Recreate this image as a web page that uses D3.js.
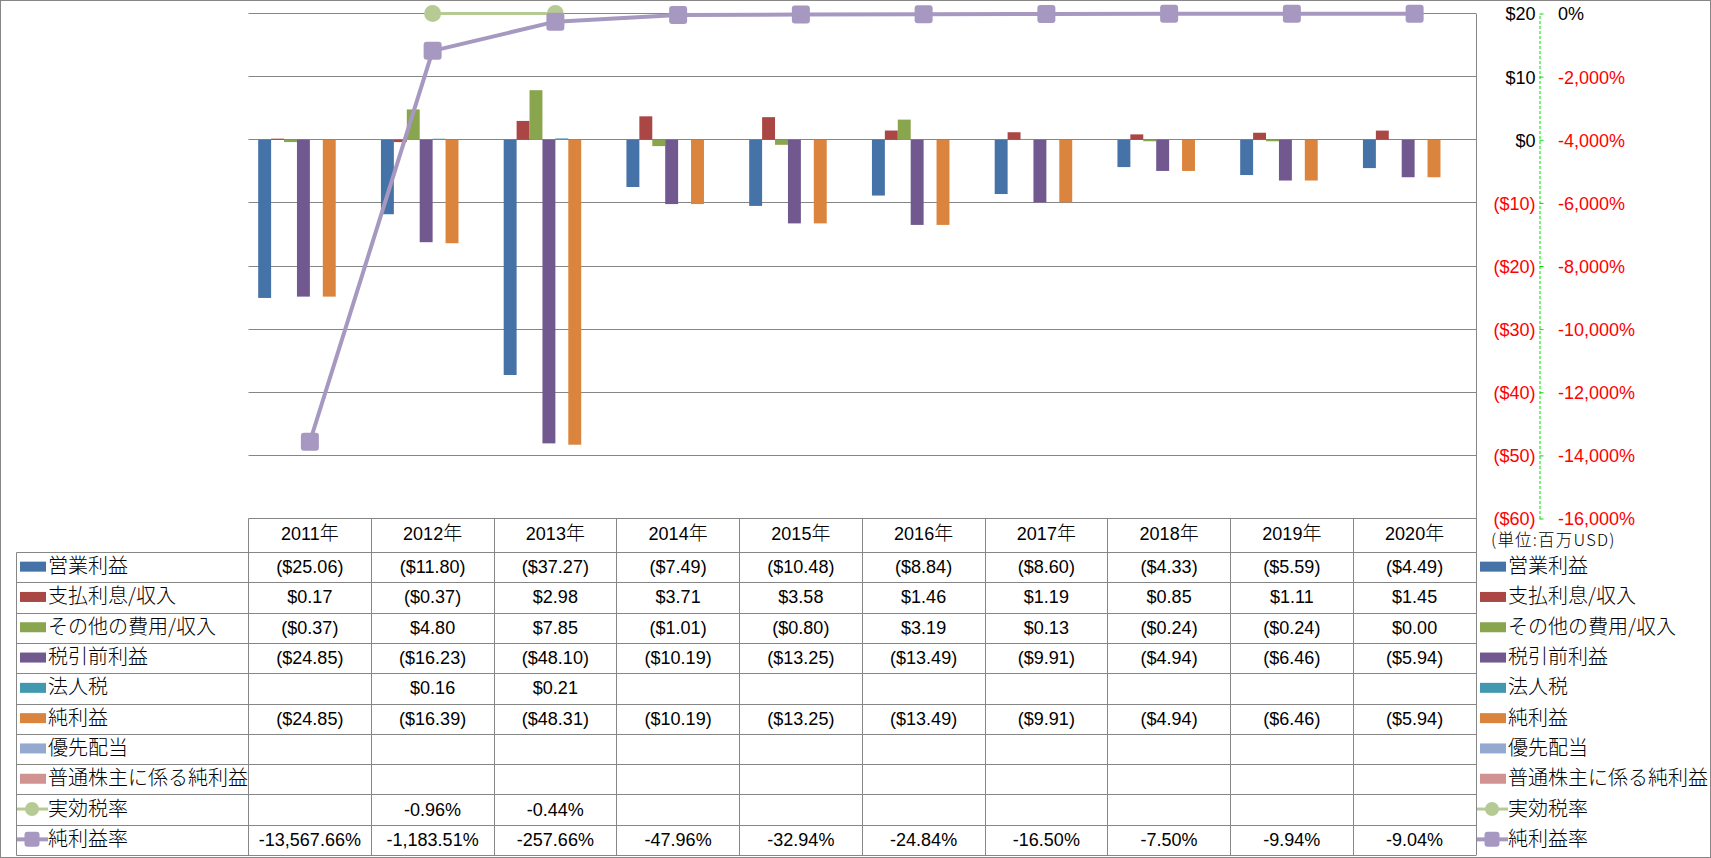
<!DOCTYPE html>
<html><head><meta charset="utf-8">
<script src="https://cdn.jsdelivr.net/npm/d3@7"></script>
<style>body{margin:0;background:#fff;} svg{display:block}</style>
</head><body>
<svg id="c" width="1711" height="858"></svg>
<script>
// ---------- data ----------
const years = ['2011','2012','2013','2014','2015','2016','2017','2018','2019','2020'];
const yearSuffix = '年';
const seriesNames = ['営業利益','支払利息/収入','その他の費用/収入','税引前利益','法人税','純利益','優先配当','普通株主に係る純利益'];
const lineNames = ['実効税率','純利益率'];
const opIncome  = [-25.06,-11.80,-37.27,-7.49,-10.48,-8.84,-8.60,-4.33,-5.59,-4.49];
const interest  = [0.17,-0.37,2.98,3.71,3.58,1.46,1.19,0.85,1.11,1.45];
const otherExp  = [-0.37,4.80,7.85,-1.01,-0.80,3.19,0.13,-0.24,-0.24,0.00];
const pretax    = [-24.85,-16.23,-48.10,-10.19,-13.25,-13.49,-9.91,-4.94,-6.46,-5.94];
const corpTax   = [null,0.16,0.21,null,null,null,null,null,null,null];
const netIncome = [-24.85,-16.39,-48.31,-10.19,-13.25,-13.49,-9.91,-4.94,-6.46,-5.94];
const preferred = [null,null,null,null,null,null,null,null,null,null];
const commonNet = [null,null,null,null,null,null,null,null,null,null];
const effTaxRate = [null,-0.96,-0.44,null,null,null,null,null,null,null];
const netMargin  = [-13567.66,-1183.51,-257.66,-47.96,-32.94,-24.84,-16.50,-7.50,-9.94,-9.04];
const dollarTicks = [-60,-50,-40,-30,-20,-10,0,10,20];
const pctTicks = [-16000,-14000,-12000,-10000,-8000,-6000,-4000,-2000,0];
const unitLabel = '(単位:百万USD)';

const barColors = ['#4572A7','#AA4643','#89A54E','#71588F','#4198AF','#DB843D','#93A9CF','#D19392'];
const lineColors = ['#B6CB94','#A698C0'];
const barSeries = [opIncome, interest, otherExp, pretax, corpTax, netIncome, preferred, commonNet];
const lineSeries = [effTaxRate, netMargin];

// ---------- layout ----------
const W = 1711, H = 858;
const plotL = 248.5, plotR = 1476, plotT = 13.5, plotB = 518.5;
const tableL = 16.5, headB = 552.5, tableB = 855.5;
const rowH = (tableB - headB) / 10;
const gridCol = '#868686';
const numFont = '"Liberation Sans", Arial, sans-serif';
const cjkFont = '"Noto Sans CJK JP", sans-serif';

const loc = d3.formatLocale({decimal: '.', thousands: ',', grouping: [3], currency: ['$', ''], minus: '-'});
const fPct2 = loc.format(',.2f');
const fPct0 = loc.format(',');
const fmtDollar = v => v == null ? '' : (v < 0 ? '($' + Math.abs(v).toFixed(2) + ')' : '$' + v.toFixed(2));
const fmtPct = v => v == null ? '' : fPct2(v) + '%';

const svg = d3.select('#c');
svg.append('rect').attr('width', W).attr('height', H).attr('fill', '#fff');

const x = d3.scaleBand().domain(years).range([plotL, plotR]);
const xs = d3.scaleBand().domain(d3.range(barSeries.length)).range([0, x.bandwidth()]).paddingOuter(0.75);
const y = d3.scaleLinear().domain([-60, 20]).range([plotB, plotT]);
const y2 = d3.scaleLinear().domain([-16000, 0]).range([plotB, plotT]);
const crisp = v => Math.round(v - 0.5) + 0.5;

// gridlines
svg.append('g').selectAll('line').data(dollarTicks.filter(d => d > -60)).join('line')
  .attr('x1', plotL).attr('x2', plotR)
  .attr('y1', d => crisp(y(d))).attr('y2', d => crisp(y(d)))
  .attr('stroke', gridCol).attr('stroke-width', 1);

// bars
const gBars = svg.append('g');
barSeries.forEach((vals, i) => {
  gBars.append('g').attr('fill', barColors[i]).selectAll('rect')
    .data(vals.map((v, j) => ({v, yr: years[j]})).filter(d => d.v != null && d.v !== 0))
    .join('rect')
    .attr('x', d => x(d.yr) + xs(i))
    .attr('width', xs.bandwidth())
    .attr('y', d => Math.min(y(d.v), y(0)))
    .attr('height', d => Math.abs(y(d.v) - y(0)));
});

// lines
const cx = yr => x(yr) + x.bandwidth() / 2;
const lineWidths = [3, 4];
function marker(g, k, px, py, s) {
  if (k === 0) {
    g.append('circle').attr('cx', px).attr('cy', py).attr('r', s / 2).attr('fill', lineColors[k]);
  } else {
    g.append('rect').attr('x', px - s / 2).attr('y', py - s / 2).attr('width', s).attr('height', s)
      .attr('rx', 3).attr('fill', lineColors[k]);
  }
}
lineSeries.forEach((vals, k) => {
  const g = svg.append('g');
  const pts = vals.map((v, j) => ({v, yr: years[j]}));
  g.append('path').datum(pts)
    .attr('d', d3.line().defined(d => d.v != null).x(d => cx(d.yr)).y(d => y2(d.v)))
    .attr('fill', 'none').attr('stroke', lineColors[k]).attr('stroke-width', lineWidths[k])
    .attr('stroke-linejoin', 'round');
  pts.filter(d => d.v != null).forEach(d => marker(g, k, cx(d.yr), y2(d.v), k === 0 ? 17 : 18));
});

// secondary (percent) axis with green dashed line
const axisX = 1539.5;
const ax2 = svg.append('g').attr('transform', `translate(${axisX},0)`)
  .call(d3.axisRight(y2).tickValues(pctTicks).tickSize(4).tickSizeOuter(0).tickPadding(14.5)
    .tickFormat(d => fPct0(d) + '%'));
ax2.select('.domain').attr('stroke', '#00E000').attr('stroke-dasharray', '3,2');
ax2.selectAll('.tick line').attr('stroke', '#00E000');
ax2.selectAll('.tick text').attr('font-family', numFont).attr('font-size', 18).attr('dy', '0.36em')
  .attr('fill', d => d < 0 ? '#FF0000' : '#000');

// primary (dollar) axis labels
const ax1 = svg.append('g').attr('transform', `translate(${axisX - 0.5},0)`)
  .call(d3.axisLeft(y).tickValues(dollarTicks).tickSize(0).tickPadding(3.5)
    .tickFormat(d => d < 0 ? '($' + Math.abs(d) + ')' : '$' + d));
ax1.select('.domain').remove();
ax1.selectAll('.tick text').attr('font-family', numFont).attr('font-size', 18).attr('dy', '0.36em')
  .attr('fill', d => d < 0 ? '#FF0000' : '#000');

svg.append('text').attr('x', 1491).attr('y', 546).attr('font-family', cjkFont).attr('font-size', 16.5)
  .attr('font-weight', 300).attr('letter-spacing', 1.2).attr('fill', '#000').text(unitLabel);

// ---------- data table ----------
const gT = svg.append('g');
const hline = (x1, x2, yy) => gT.append('line').attr('x1', x1).attr('x2', x2).attr('y1', yy).attr('y2', yy)
  .attr('stroke', gridCol).attr('stroke-width', 1);
const vline = (xx, y1, y2_) => gT.append('line').attr('x1', xx).attr('x2', xx).attr('y1', y1).attr('y2', y2_)
  .attr('stroke', gridCol).attr('stroke-width', 1);

hline(plotL, plotR, plotB);
for (let r = 0; r <= 10; r++) hline(tableL, plotR, crisp(headB + r * rowH));
years.forEach(yr => vline(crisp(x(yr)), plotB, tableB));
vline(tableL, headB, tableB);
vline(plotR + 0.5, plotT, tableB);

// header
years.forEach(yr => {
  const t = gT.append('text').attr('x', cx(yr)).attr('y', (plotB + headB) / 2 + 4)
    .attr('text-anchor', 'middle').attr('fill', '#000');
  t.append('tspan').attr('font-family', numFont).attr('font-size', 18).text(yr);
  t.append('tspan').attr('font-family', cjkFont).attr('font-weight', 300).attr('font-size', 19).text(yearSuffix);
});

const allNames = seriesNames.concat(lineNames);
const allVals = barSeries.concat(lineSeries);
const rowCenter = r => headB + r * rowH + rowH / 2;

function legendKey(g, r, kx) {
  const cy = rowCenter(r) - 1;
  if (r < barSeries.length) {
    g.append('rect').attr('x', kx).attr('y', cy - 5).attr('width', 26).attr('height', 10).attr('fill', barColors[r]);
  } else {
    const k = r - barSeries.length;
    g.append('line').attr('x1', kx - 3).attr('x2', kx + 28).attr('y1', cy).attr('y2', cy)
      .attr('stroke', lineColors[k]).attr('stroke-width', lineWidths[k]);
    marker(g, k, kx + 12, cy, k === 0 ? 14 : 15);
  }
}

allNames.forEach((name, r) => {
  legendKey(gT, r, 20);
  gT.append('text').attr('x', 48).attr('y', rowCenter(r) + 5.5).attr('font-family', cjkFont)
    .attr('font-weight', 300).attr('font-size', 20).attr('fill', '#000').text(name);
  legendKey(gT, r, 1480);
  gT.append('text').attr('x', 1508).attr('y', rowCenter(r) + 5.5).attr('font-family', cjkFont)
    .attr('font-weight', 300).attr('font-size', 20).attr('fill', '#000').text(name);
  const isPct = r >= barSeries.length;
  allVals[r].forEach((v, j) => {
    if (v == null) return;
    gT.append('text').attr('x', cx(years[j])).attr('y', rowCenter(r) + 5.5)
      .attr('text-anchor', 'middle').attr('font-family', numFont).attr('font-size', 18)
      .attr('fill', '#000').text(isPct ? fmtPct(v) : fmtDollar(v));
  });
});

// chart border
svg.append('rect').attr('x', 0.5).attr('y', 0.5).attr('width', W - 1).attr('height', H - 1)
  .attr('fill', 'none').attr('stroke', gridCol);
</script>
</body></html>
